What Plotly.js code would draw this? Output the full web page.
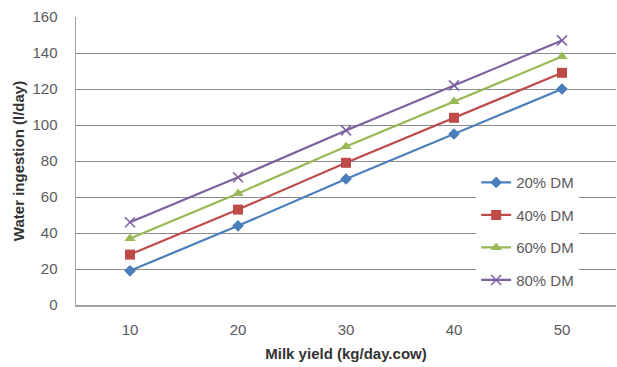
<!DOCTYPE html>
<html><head><meta charset="utf-8">
<script src="https://cdn.plot.ly/plotly-3.0.1.min.js"></script>
<style>html,body{margin:0;padding:0;background:#fff}#c{width:617px;height:367px}</style>
</head><body><div id="c"></div>
<script>
const categories = ['10','20','30','40','50'];
const dm20 = [19, 44, 70, 95, 120];
const dm40 = [28, 53, 79, 104, 129];
const dm60 = [37, 62, 88, 113, 138];
const dm80 = [46, 71, 97, 122, 147];
const seriesNames = ['20% DM','40% DM','60% DM','80% DM'];
const yTicks = [0,20,40,60,80,100,120,140,160];

const colors = ['#4A7EBB','#BE4B48','#98B954','#7D60A0'];
const symbols = ['diamond','square','triangle-up','x-thin-open'];
const sizes = [9,10,10,10];
const data = [dm20,dm40,dm60,dm80].map((v,i)=>({
  x: categories, y: v, name: seriesNames[i], type:'scatter', mode:'lines+markers',
  legendgroup:'g'+i,
  line:{color:colors[i], width:2.2},
  marker:{symbol:symbols[i], size:sizes[i], color:colors[i], line:{color:colors[i], width: i===3?1.5:0}}
}));
const font = {family:'Liberation Sans, Arial, sans-serif', size:15, color:'#595959'};
const layout = {
  width:617, height:367,
  margin:{l:76, r:1, t:17, b:62},
  paper_bgcolor:'#fff', plot_bgcolor:'#fff',
  font: font,
  showlegend:true,
  legend:{x:0.741, y:0.482, xanchor:'left', yanchor:'top', bgcolor:'#fff',
    font:{family:font.family, size:15, color:'#595959'}, tracegroupgap:10, itemwidth:30},
  xaxis:{type:'category', range:[-0.5,4.5], showgrid:false, zeroline:false, showline:true, linecolor:'#A0A0A0', linewidth:1.5,
    ticks:'', ticklabelstandoff:10, tickfont:{size:15,color:'#595959'},
    title:{text:'<b>Milk yield (kg/day.cow)</b>', font:{size:15,color:'#333'}, standoff:12}},
  yaxis:{range:[0,160], tickvals:yTicks, showgrid:true, gridcolor:'#8C8C8C', gridwidth:1, zeroline:false,
    showline:true, linecolor:'#A0A0A0', linewidth:1.5, ticks:'', ticklabelstandoff:14, tickfont:{size:15,color:'#595959'},
    title:{text:'<b>Water ingestion (l/day)</b>', font:{size:15,color:'#333'}, standoff:4}}
};
Plotly.newPlot('c', data, layout, {displayModeBar:false, staticPlot:true});
</script></body></html>
